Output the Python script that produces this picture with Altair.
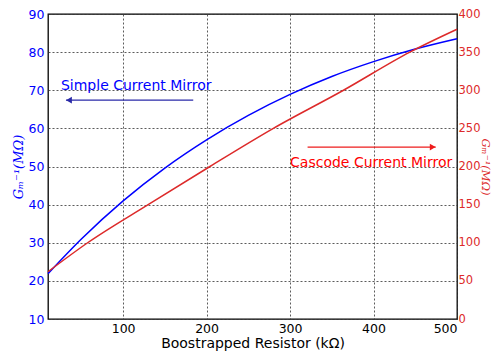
import altair as alt
import pandas as pd

# Blue curve (left axis, Simple Current Mirror)
blue_x = [10, 50, 100, 150, 200, 250, 300, 350, 400, 450, 500]
blue_y = [21.9, 31.0, 41.0, 49.6, 57.0, 63.4, 68.9, 73.6, 77.5, 80.8, 83.5]

# Red curve (right axis, Cascode Current Mirror)
red_x = [10, 57.5, 130, 204, 280, 364, 443.5, 500]
red_y = [62, 100, 150, 200, 250, 300, 350, 380]

x_ticks = [100, 200, 300, 400, 500]
left_ticks = [10, 20, 30, 40, 50, 60, 70, 80, 90]
right_ticks = [0, 50, 100, 150, 200, 250, 300, 350, 400]

# Annotations (left-axis units)
simple_label = "Simple Current Mirror"
simple_text_pos = (25.5, 70)
simple_arrow = (184, 31.5, 67.4)   # from x, to x, y
casc_label = "Cascode Current Mirror"
casc_text_pos = (300, 50)
casc_arrow = (321, 474.5, 55.1)

FONT = "DejaVu Sans"
BLUE = "#0000ff"
RED = "#dd2a2a"

xscale = alt.Scale(domain=[10, 500], nice=False, zero=False)
xaxis = alt.Axis(values=x_ticks, title="Boostrapped Resistor (kΩ)",
                 grid=True, gridDash=[2, 2], gridColor="#333333",
                 gridOpacity=0.8, labelColor="black", labelFontSize=12.5,
                 titleFontSize=14, titleFontWeight="normal", titleColor="black",
                 tickSize=0, domain=False, labelPadding=3, titlePadding=2)
xenc = alt.X("x:Q", scale=xscale, axis=xaxis)

yaxis_left = alt.Axis(values=left_ticks, title="Gₘ⁻¹(MΩ)", grid=True, gridDash=[2, 2],
                      gridColor="#333333", gridOpacity=0.8, labelColor=BLUE,
                      labelFontSize=12.5, titleColor=BLUE, titleFontSize=13,
                      titleFontStyle="italic", titleFontWeight="normal", titleFont="DejaVu Serif",
                      tickSize=0, domain=False, labelPadding=4, titlePadding=3)
yL = alt.Y("v:Q", scale=alt.Scale(domain=[10, 90], nice=False, zero=False), axis=yaxis_left)

df_blue = pd.DataFrame({"x": blue_x, "v": blue_y})
df_red = pd.DataFrame({"x": red_x, "r": red_y})

blue = alt.Chart(df_blue).mark_line(color=BLUE, strokeWidth=1.5, interpolate="monotone").encode(x=xenc, y=yL)

df_st = pd.DataFrame({"x": [simple_text_pos[0]], "v": [simple_text_pos[1]], "t": [simple_label]})
st = alt.Chart(df_st).mark_text(align="left", baseline="alphabetic", font=FONT, fontSize=14,
                                color=BLUE).encode(x=xenc, y=yL, text="t:N")
df_ct = pd.DataFrame({"x": [casc_text_pos[0]], "v": [casc_text_pos[1]], "t": [casc_label]})
ct = alt.Chart(df_ct).mark_text(align="left", baseline="alphabetic", font=FONT, fontSize=14,
                                color="#ff0000").encode(x=xenc, y=yL, text="t:N")

df_sa = pd.DataFrame({"x": [simple_arrow[0]], "x2": [simple_arrow[1]], "v": [simple_arrow[2]]})
sa_line = alt.Chart(df_sa).mark_rule(color="#2a2aa8", strokeWidth=1.2).encode(x=xenc, x2="x2:Q", y=yL)
df_sah = pd.DataFrame({"x": [simple_arrow[1]], "v": [simple_arrow[2]]})
sa_head = alt.Chart(df_sah).mark_point(shape="triangle-left", filled=True, color="#2a2aa8",
                                       size=45, opacity=1, xOffset=3).encode(x=xenc, y=yL)

df_ca = pd.DataFrame({"x": [casc_arrow[0]], "x2": [casc_arrow[1]], "v": [casc_arrow[2]]})
ca_line = alt.Chart(df_ca).mark_rule(color="#ee1c1c", strokeWidth=1.2).encode(x=xenc, x2="x2:Q", y=yL)
df_cah = pd.DataFrame({"x": [casc_arrow[1]], "v": [casc_arrow[2]]})
ca_head = alt.Chart(df_cah).mark_point(shape="triangle-right", filled=True, color="#ee1c1c",
                                       size=45, opacity=1, xOffset=-3).encode(x=xenc, y=yL)

left_group = alt.layer(blue, sa_line, sa_head, st, ca_line, ca_head, ct)

red = alt.Chart(df_red).mark_line(color=RED, strokeWidth=1.5, interpolate="monotone").encode(
    x=xenc,
    y=alt.Y("r:Q", scale=alt.Scale(domain=[0, 400], nice=False, zero=False),
            axis=alt.Axis(orient="right", values=right_ticks, title="Gₘ⁻¹(MΩ)", grid=False,
                          labelColor=RED, labelFontSize=11.5, titleColor=RED, titleFontSize=11.5,
                          titleFontStyle="italic", titleFontWeight="normal", titleFont="DejaVu Serif",
                          titleAngle=90, tickSize=0, domain=False, labelPadding=1, titlePadding=0)))

chart = alt.layer(left_group, red).resolve_scale(y="independent").properties(
    width=409, height=305,
    autosize=alt.AutoSizeParams(type="none"),
    padding={"left": 40, "top": 6, "right": 37, "bottom": 38},
    background="white",
).configure_view(stroke="black", strokeWidth=1.3).configure_axis(
    labelFont=FONT, titleFont=FONT)

chart.save("out.html", embed_options={"renderer": "svg", "actions": False})
